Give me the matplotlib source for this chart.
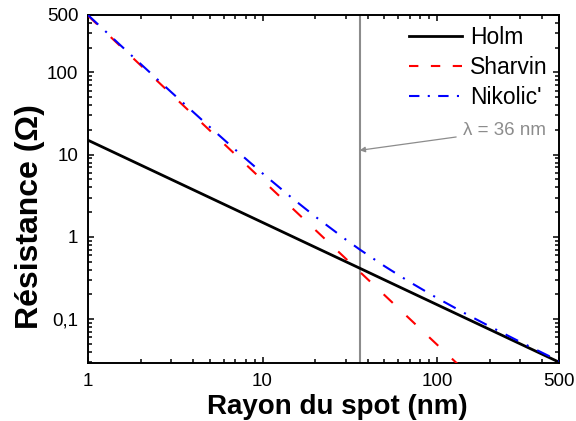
import matplotlib
matplotlib.use("Agg")
import matplotlib.pyplot as plt
from matplotlib.lines import Line2D
from matplotlib.ticker import FixedLocator, LogLocator, NullFormatter

plt.rcParams['font.family'] = ['Liberation Sans', 'DejaVu Sans']

# Data
holm_x = [1, 2, 5, 10, 20, 36, 50, 100, 200, 500]
holm_y = [15, 7.5, 3.0, 1.5, 0.75, 0.417, 0.30, 0.15, 0.075, 0.030]

sharvin_x = [1, 1.5, 2, 3, 5, 7, 10, 20, 36, 50, 100, 150]
sharvin_y = [490, 218, 122.5, 54.4, 19.6, 10.0, 4.9, 1.225, 0.378, 0.196, 0.049, 0.0218]

nikolic_x = [1, 1.5, 2, 3, 5, 7, 10, 15, 20, 30, 36, 50, 70, 100, 150, 200, 300, 500]
nikolic_y = [499, 224, 127.3, 57.6, 21.6, 11.44, 5.93, 2.89, 1.776, 0.929, 0.705,
             0.441, 0.2815, 0.1807, 0.1127, 0.0818, 0.0528, 0.0310]

lambda_nm = 36
series_labels = ['Holm', 'Sharvin', "Nikolic'"]
x_ticks = [1, 10, 100, 500]
x_ticklabels = ['1', '10', '100', '500']
y_ticks = [0.1, 1, 10, 100, 500]
y_ticklabels = ['0,1', '1', '10', '100', '500']

fig = plt.figure(figsize=(5.76, 4.21), dpi=100)
ax = fig.add_axes([0.1528, 0.1378, 0.8177, 0.8266])

ax.axvline(lambda_nm, color='#8c8c8c', lw=1.5, zorder=1)

ax.plot(holm_x, holm_y, color='black', lw=2.0, zorder=2)
ax.plot(sharvin_x, sharvin_y, color='#ff0000', lw=1.5, dashes=(6, 9), zorder=3)
ax.plot(nikolic_x, nikolic_y, color='#0000ff', lw=1.5, dashes=(6.7, 4.6, 1, 4.6), zorder=4)

ax.set_xscale('log')
ax.set_yscale('log')
ax.set_xlim(1, 500)
ax.set_ylim(0.0293, 500)

ax.xaxis.set_major_locator(FixedLocator(x_ticks))
ax.set_xticklabels(x_ticklabels)
ax.yaxis.set_major_locator(FixedLocator(y_ticks))
ax.set_yticklabels(y_ticklabels)
ax.xaxis.set_minor_locator(LogLocator(base=10, subs=range(2, 10)))
ax.yaxis.set_minor_locator(LogLocator(base=10, subs=range(2, 10)))
ax.xaxis.set_minor_formatter(NullFormatter())
ax.yaxis.set_minor_formatter(NullFormatter())

ax.tick_params(which='both', direction='in', top=True, right=True, width=1.1, labelsize=13.5)
ax.tick_params(which='major', length=4.5)
ax.tick_params(which='minor', length=2.7)
ax.tick_params(axis='y', which='major', pad=7)
ax.tick_params(axis='x', which='major', pad=7)
for s in ax.spines.values():
    s.set_linewidth(1.4)

ax.set_xlabel('Rayon du spot (nm)', fontsize=20, fontweight='bold', labelpad=1)
ax.xaxis.set_label_coords(0.529, -0.09, transform=ax.transAxes)
ax.set_ylabel('Résistance (Ω)', fontsize=23, fontweight='bold')
ax.yaxis.set_label_coords(-0.092, 0.421, transform=ax.transAxes)

handles = [
    Line2D([], [], color='black', lw=2.0),
    Line2D([], [], color='#ff0000', lw=1.5, dashes=(4.5, 6)),
    Line2D([], [], color='#0000ff', lw=1.5, dashes=(5, 4, 1, 4)),
]
ax.legend(handles, series_labels, loc='upper right', frameon=False, fontsize=16.5,
          handlelength=2.3, handletextpad=0.35, labelspacing=0.3,
          borderaxespad=0.2, borderpad=0.3)

ax.annotate('λ = 36 nm', xy=(lambda_nm, 11.3), xytext=(141, 19.8),
            ha='left', va='center', fontsize=13.5, color='#8c8c8c',
            arrowprops=dict(arrowstyle='-|>', color='#8c8c8c', lw=0.9,
                            mutation_scale=8, shrinkA=3, shrinkB=0))

fig.savefig('out.png', dpi=100)
